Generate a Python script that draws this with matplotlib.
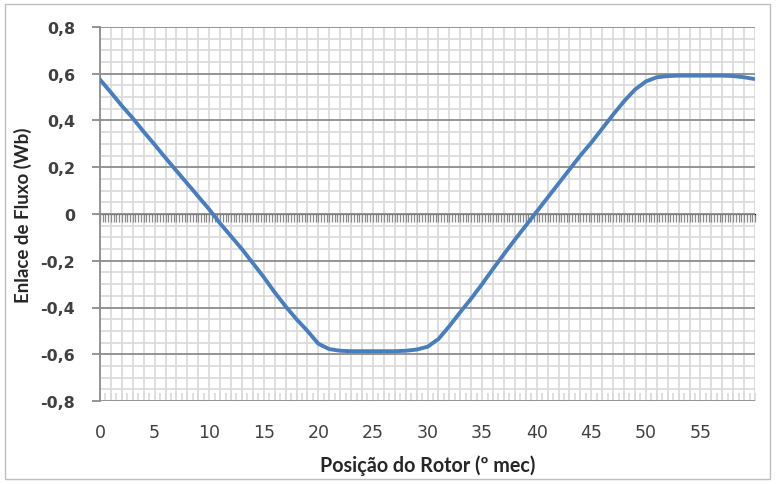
import matplotlib
matplotlib.use("Agg")
import matplotlib.pyplot as plt
from matplotlib.ticker import MultipleLocator, FuncFormatter, NullFormatter
from matplotlib.patches import Rectangle

# posição do rotor (graus mecânicos) e enlace de fluxo (Wb)
posicao = list(range(0, 60)) + [59.9]
enlace = [
    0.575, 0.52, 0.463, 0.41, 0.352, 0.297, 0.24, 0.185, 0.13, 0.075,
    0.02, -0.04, -0.095, -0.15, -0.21, -0.27, -0.335, -0.395, -0.45, -0.50,
    -0.555, -0.578, -0.585, -0.587, -0.587, -0.587, -0.587, -0.587, -0.585, -0.58,
    -0.568, -0.535, -0.48, -0.42, -0.362, -0.30, -0.235, -0.172, -0.11, -0.05,
    0.01, 0.07, 0.13, 0.19, 0.25, 0.305, 0.365, 0.425, 0.482, 0.532,
    0.567, 0.585, 0.59, 0.592, 0.592, 0.592, 0.592, 0.592, 0.59, 0.585,
    0.578,
]
xticks = [0, 5, 10, 15, 20, 25, 30, 35, 40, 45, 50, 55]

fig = plt.figure(figsize=(7.76, 4.85), dpi=100)
ax = fig.add_axes([100 / 776, 1 - 402 / 485, 655 / 776, 374 / 485])

# moldura externa do gráfico
fig.patches.append(Rectangle((5 / 776, 5 / 485), 765 / 776, 475 / 485,
                             transform=fig.transFigure, fill=False,
                             edgecolor="#bfbfbf", linewidth=1.0))

ax.set_xlim(0, 60)
ax.set_ylim(-0.8, 0.8)

ax.yaxis.set_major_locator(MultipleLocator(0.2))
ax.yaxis.set_minor_locator(MultipleLocator(0.05))

# grade
ax.grid(axis="y", which="minor", color="#d9d9d9", linewidth=1.2)
ax.grid(axis="y", which="major", color="#8c8c8c", linewidth=1.3)
for t in range(0, 61):
    ax.axvline(t, color="#d9d9d9", linewidth=1.2, zorder=0)
ax.set_axisbelow(True)

for s in ["top", "right", "bottom"]:
    ax.spines[s].set_visible(False)
ax.spines["left"].set_color("#8c8c8c")
ax.spines["left"].set_linewidth(1.3)

ax.plot(posicao, enlace, color="#4a7ebb", linewidth=2.8, solid_capstyle="round", zorder=3)

# rótulos do eixo y com vírgula decimal
def fmt_virgula(v, pos):
    if abs(v) < 1e-9:
        return "0"
    return f"{v:.1f}".replace(".", ",")

ax.yaxis.set_major_formatter(FuncFormatter(fmt_virgula))
ax.tick_params(axis="y", which="major", length=6, width=1.3, color="#8c8c8c",
               labelsize=11.4, labelcolor="#404040", pad=12)
for lbl in ax.get_yticklabels():
    lbl.set_fontweight("bold")
ax.tick_params(axis="y", which="minor", length=0)

# eixo x: rótulos na base
ax.set_xticks(xticks, [str(v) for v in xticks])
ax.xaxis.set_minor_locator(MultipleLocator(0.5))
ax.tick_params(axis="x", which="major", length=0, labelsize=12.5,
               labelcolor="#404040", pad=16)
ax.tick_params(axis="x", which="minor", direction="in", length=6,
               width=1.2, color="#d9d9d9")

# eixo de categorias sobre y = 0, marcas para baixo
sec = ax.secondary_xaxis(0.5)
sec.spines["bottom"].set_color("#8c8c8c")
sec.spines["bottom"].set_linewidth(1.3)
sec.xaxis.set_major_locator(MultipleLocator(1))
sec.xaxis.set_minor_locator(MultipleLocator(0.25))
sec.xaxis.set_major_formatter(NullFormatter())
sec.xaxis.set_minor_formatter(NullFormatter())
sec.tick_params(axis="x", which="both", direction="in", length=6, width=0.9,
                color="#8a8a8a", labelbottom=False, labeltop=False)

ax.set_ylabel("Enlace de Fluxo (Wb)", fontsize=13.5, fontweight="bold",
              family="Lato", color="#262626")
ax.yaxis.set_label_coords(-68 / 655, 0.5)
ax.set_xlabel("Posição do Rotor (º mec)", fontsize=14.2, fontweight="bold",
              family="Lato", color="#262626")
ax.xaxis.set_label_coords(0.5, -(455 - 402) / 374)

fig.savefig("out.png", dpi=100)
